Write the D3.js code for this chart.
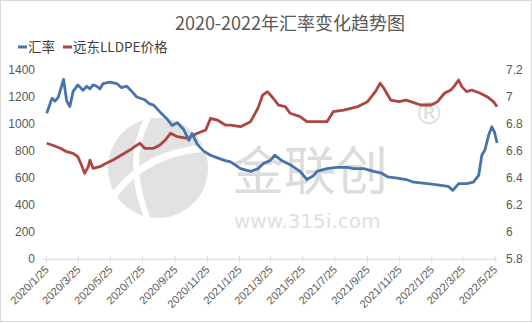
<!DOCTYPE html>
<html>
<head>
<meta charset="utf-8">
<script src="https://cdn.jsdelivr.net/npm/d3@7"></script>
<style>
  body { margin: 0; background: #fff; }
  svg { display: block; font-family: "Noto Sans CJK SC", "Noto Sans", sans-serif; }
</style>
</head>
<body>
<svg id="chart" width="532" height="323"></svg>
<script>
// data

const rateDates = ["2020-01-25","2020-02-04","2020-02-10","2020-02-16","2020-02-26","2020-03-03","2020-03-09","2020-03-15","2020-03-24",
  "2020-04-03","2020-04-10","2020-04-16","2020-04-22","2020-04-29","2020-05-05","2020-05-11","2020-05-24","2020-06-06","2020-06-15","2020-06-25","2020-07-05","2020-07-14","2020-07-29",
  "2020-08-07","2020-08-15","2020-08-27","2020-09-09","2020-09-19","2020-09-29","2020-10-11","2020-10-21","2020-10-27","2020-11-06",
  "2020-11-18","2020-12-01","2020-12-14","2020-12-29","2021-01-08","2021-01-27","2021-02-15","2021-03-01","2021-03-12",
  "2021-03-24","2021-04-02","2021-04-15","2021-05-01","2021-05-20","2021-06-02","2021-06-15","2021-06-21","2021-07-10",
  "2021-07-29","2021-08-17","2021-08-30","2021-09-18","2021-10-07","2021-10-20","2021-11-02","2021-11-21","2021-12-07",
  "2021-12-22","2022-01-17","2022-02-05","2022-02-25","2022-03-06","2022-03-17","2022-04-01","2022-04-14","2022-04-24",
  "2022-04-30","2022-05-06","2022-05-13","2022-05-19","2022-05-24","2022-05-29"];
const rateValues = [6.88,6.99,6.97,7.00,7.13,6.97,6.93,7.04,7.09,
  7.05,7.08,7.06,7.09,7.08,7.06,7.10,7.11,7.10,7.07,7.08,7.04,7.00,6.98,
  6.95,6.94,6.89,6.84,6.79,6.81,6.76,6.68,6.73,6.65,
  6.60,6.57,6.55,6.53,6.52,6.47,6.45,6.47,6.51,
  6.53,6.57,6.53,6.50,6.45,6.39,6.42,6.45,6.47,
  6.48,6.48,6.47,6.47,6.45,6.44,6.41,6.40,6.39,
  6.37,6.36,6.35,6.34,6.31,6.36,6.36,6.37,6.42,
  6.57,6.61,6.72,6.78,6.74,6.66];

const priceDates = ["2020-01-25","2020-02-04","2020-02-20","2020-03-03","2020-03-15","2020-03-24","2020-03-31","2020-04-06",
  "2020-04-13","2020-04-16","2020-04-22","2020-05-05","2020-05-17","2020-05-30","2020-06-15","2020-07-01","2020-07-10",
  "2020-07-20","2020-07-29","2020-08-15","2020-08-27","2020-09-06","2020-09-16","2020-09-29","2020-10-18","2020-11-06",
  "2020-11-22","2020-12-01","2020-12-14","2020-12-29","2021-01-08","2021-01-27","2021-02-15","2021-03-01","2021-03-10",
  "2021-03-19","2021-03-30","2021-04-09","2021-04-22","2021-05-01","2021-05-20","2021-06-02","2021-06-27","2021-07-10",
  "2021-07-22","2021-08-11","2021-09-06","2021-09-25","2021-10-10","2021-10-19","2021-10-26","2021-11-08","2021-11-24",
  "2021-12-07","2021-12-16","2022-01-04","2022-01-24","2022-02-05","2022-02-18","2022-03-02","2022-03-08","2022-03-17",
  "2022-03-23","2022-04-01","2022-04-11","2022-04-27","2022-05-10","2022-05-22","2022-05-29"];
const priceValues = [858,845,821,796,784,759,697,636,
  685,734,673,685,710,734,771,808,833,
  858,821,821,845,882,932,907,895,932,
  956,1043,1030,993,993,981,1018,1117,1215,
  1240,1191,1141,1129,1080,1055,1018,1018,1018,
  1092,1104,1129,1166,1240,1302,1265,1178,1166,
  1178,1166,1141,1141,1166,1228,1252,1277,1326,
  1277,1240,1252,1228,1203,1166,1129];

const xTickLabels = ["2020/1/25","2020/3/25","2020/5/25","2020/7/25","2020/9/25","2020/11/25","2021/1/25","2021/3/25",
  "2021/5/25","2021/7/25","2021/9/25","2021/11/25","2022/1/25","2022/3/25","2022/5/25"];
const leftTicks = [0, 200, 400, 600, 800, 1000, 1200, 1400];
const rightTicks = [5.8, 6, 6.2, 6.4, 6.6, 6.8, 7, 7.2];

const titleText = "2020-2022年汇率变化趋势图";
const seriesNames = ["汇率", "远东LLDPE价格"];
const seriesColors = ["#4574ab", "#ad4542"];

// layout

const svg = d3.select("#chart");
const plotLeft = 46.7, plotRight = 495, plotTop = 70, plotBottom = 259.3;

const parseDash = d3.timeParse("%Y-%m-%d");
const parseSlash = d3.timeParse("%Y/%m/%d");

const x = d3.scaleTime()
            .domain([parseSlash(xTickLabels[0]), parseSlash(xTickLabels[xTickLabels.length - 1])])
            .range([plotLeft, plotRight]);
const yLeft = d3.scaleLinear().domain([0, 1400]).range([plotBottom, plotTop]);
const yRight = d3.scaleLinear().domain([5.8, 7.2]).range([plotBottom, plotTop]);

// frame
svg.append("rect")
   .attr("x", 0.5).attr("y", 0.5)
   .attr("width", 531).attr("height", 321)
   .style("fill", "#fff")
   .style("stroke", "#d9d9d9");

// watermark
const wm = svg.append("g").attr("class", "watermark");
wm.append("circle")
  .attr("cx", 158).attr("cy", 168).attr("r", 50)
  .style("fill", "#e2e2e2");
wm.append("path")
  .attr("d", "M112,198 Q148,148 216,148")
  .style("fill", "none").style("stroke", "#fff").style("stroke-width", 7);
wm.append("path")
  .attr("d", "M148,118 Q124,160 148,220")
  .style("fill", "none").style("stroke", "#fff").style("stroke-width", 6);
wm.append("text")
  .attr("x", 232).attr("y", 190)
  .style("font-size", "52px")
  .style("fill", "#dcdcdc")
  .text("金联创");
wm.append("text")
  .attr("x", 234).attr("y", 228)
  .style("font-family", "'DejaVu Sans', sans-serif")
  .style("font-size", "20px")
  .style("fill", "#e0e0e0")
  .text("www.315i.com");
wm.append("text")
  .attr("x", 414).attr("y", 124)
  .style("font-family", "'DejaVu Sans', sans-serif")
  .style("font-size", "30px")
  .style("fill", "#dcdcdc")
  .text("®");

// title
svg.append("text")
   .attr("x", 290).attr("y", 30)
   .attr("text-anchor", "middle")
   .style("font-size", "18px")
   .style("fill", "#595959")
   .text(titleText);

// legend
const legend = svg.append("g");
const legendX = [18, 63];
seriesNames.forEach((name, i) => {
    legend.append("line")
          .attr("x1", legendX[i]).attr("x2", legendX[i] + 9)
          .attr("y1", 47).attr("y2", 47)
          .style("stroke", seriesColors[i])
          .style("stroke-width", 3);
    legend.append("text")
          .attr("x", legendX[i] + 10).attr("y", 52)
          .style("font-size", "13.5px")
          .style("fill", "#404040")
          .text(name);
});

// x axis
const xTicks = xTickLabels.map(parseSlash);
const axisG = svg.append("g");
axisG.append("line")
     .attr("x1", 42).attr("x2", 497)
     .attr("y1", plotBottom).attr("y2", plotBottom)
     .style("stroke", "#d9d9d9");
axisG.selectAll(".tick")
     .data(xTicks)
     .join("line")
     .attr("x1", d => x(d)).attr("x2", d => x(d))
     .attr("y1", plotBottom - 3).attr("y2", plotBottom + 3)
     .style("stroke", "#d9d9d9");
axisG.selectAll(".xlabel")
     .data(xTickLabels)
     .join("text")
     .attr("text-anchor", "end")
     .attr("transform", d => `translate(${x(parseSlash(d)) + 3},${plotBottom + 11}) rotate(-45)`)
     .style("font-family", "'Liberation Sans', sans-serif")
     .style("font-size", "11px")
     .style("fill", "#595959")
     .text(d => d);

// y axes labels
svg.append("g").selectAll("text")
   .data(leftTicks)
   .join("text")
   .attr("x", 35).attr("y", d => yLeft(d) + 4)
   .attr("text-anchor", "end")
   .style("font-family", "'Liberation Sans', sans-serif")
   .style("font-size", "12px")
   .style("fill", "#595959")
   .text(d => d);

svg.append("g").selectAll("text")
   .data(rightTicks)
   .join("text")
   .attr("x", 506).attr("y", d => yRight(d) + 4)
   .style("font-family", "'Liberation Sans', sans-serif")
   .style("font-size", "12px")
   .style("fill", "#595959")
   .text(d => d);

// lines
const rateData = rateDates.map((d, i) => ({date: parseDash(d), value: rateValues[i]}));
const priceData = priceDates.map((d, i) => ({date: parseDash(d), value: priceValues[i]}));

const rateLine = d3.line().x(d => x(d.date)).y(d => yRight(d.value));
const priceLine = d3.line().x(d => x(d.date)).y(d => yLeft(d.value));

svg.append("path")
   .datum(priceData)
   .attr("d", priceLine)
   .style("fill", "none")
   .style("stroke", seriesColors[1])
   .style("stroke-width", 2.8)
   .style("stroke-linejoin", "round");

svg.append("path")
   .datum(rateData)
   .attr("d", rateLine)
   .style("fill", "none")
   .style("stroke", seriesColors[0])
   .style("stroke-width", 2.8)
   .style("stroke-linejoin", "round");
</script>
</body>
</html>
